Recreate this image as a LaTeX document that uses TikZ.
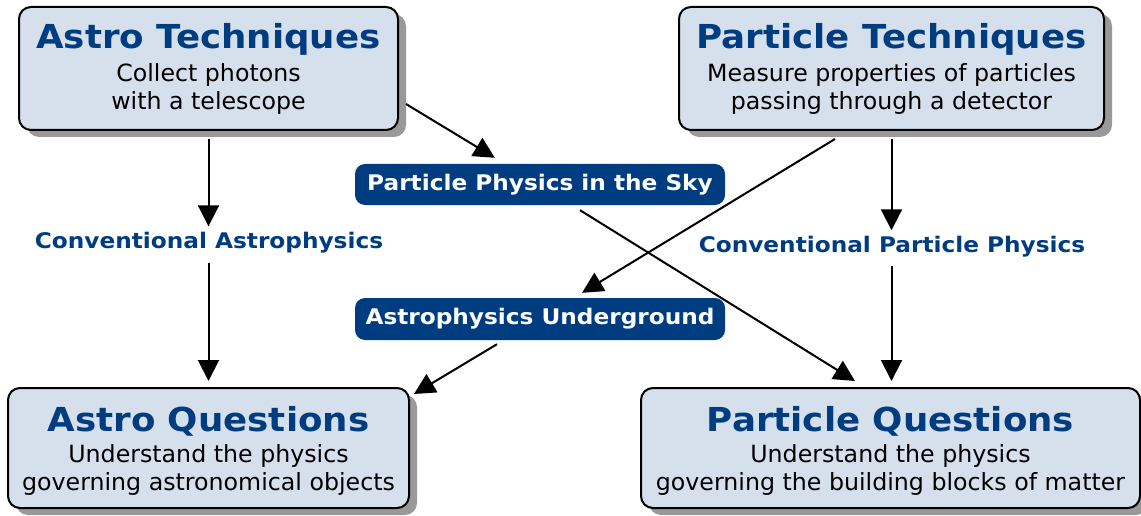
\documentclass[tikz,border=0pt]{standalone}
\usepackage{fontspec}
\setmainfont{DejaVu Sans}
\newfontfamily\widebold[FakeStretch=1.08]{DejaVu Sans Bold}
\usetikzlibrary{arrows.meta,calc,shadows}
\definecolor{navy}{RGB}{0,60,128}
\definecolor{boxfill}{RGB}{214,224,236}
\definecolor{shade}{RGB}{153,153,153}
\begin{document}
\begin{tikzpicture}[x=1pt,y=-1pt,
  bigbox/.style={draw=black, line width=2pt, fill=boxfill, rounded corners=12pt,
    drop shadow={shadow xshift=8pt, shadow yshift=-7pt, fill=shade, opacity=1},
    inner sep=0pt},
  title/.style={anchor=base, text=navy, font=\widebold\fontsize{33}{38}\selectfont, inner sep=0pt},
  sub/.style={anchor=base, text=black, font=\fontsize{23.7}{28}\selectfont, inner sep=0pt},
  pill/.style={fill=navy, rounded corners=10pt, text=white, font=\widebold\fontsize{21.5}{25}\selectfont,
    minimum width=370pt, inner sep=0pt, text height=15pt, text depth=4pt},
  lbl/.style={text=navy, font=\widebold\fontsize{21.5}{25}\selectfont, inner sep=0pt,
    text height=15pt, text depth=4pt},
  arr/.style={line width=2pt, -{Triangle[length=21pt,width=21pt]}}]
\clip (0,0) rectangle (1141,516);
\useasboundingbox (0,0) rectangle (1141,516);

% boxes
\node[bigbox, minimum width=379pt, minimum height=123pt] (AT) at (208.5,68.5) {};
\node[bigbox, minimum width=425pt, minimum height=123pt] (PT) at (891.5,68.5) {};
\node[bigbox, minimum width=401pt, minimum height=120pt] (AQ) at (208.5,448) {};
\node[bigbox, minimum width=499pt, minimum height=120pt] (PQ) at (890.5,448) {};

% box texts
\node[title] (ATt) at ($(AT.north)+(0,43)$) {Astro Techniques};
\node[sub] (ATs1) at ($(AT.north)+(0,76)$) {Collect photons};
\node[sub] (ATs2) at ($(AT.north)+(0,104)$) {with a telescope};

\node[title] (PTt) at ($(PT.north)+(0,43)$) {Particle Techniques};
\node[sub] (PTs1) at ($(PT.north)+(0,76)$) {Measure properties of particles};
\node[sub] (PTs2) at ($(PT.north)+(0,104)$) {passing through a detector};

\node[title] (AQt) at ($(AQ.north)+(0,44)$) {Astro Questions};
\node[sub] (AQs1) at ($(AQ.north)+(0,75)$) {Understand the physics};
\node[sub] (AQs2) at ($(AQ.north)+(0,103)$) {governing astronomical objects};

\node[title] (PQt) at ($(PQ.north)+(0,44)$) {Particle Questions};
\node[sub] (PQs1) at ($(PQ.north)+(0,75)$) {Understand the physics};
\node[sub] (PQs2) at ($(PQ.north)+(0,103)$) {governing the building blocks of matter};

% pills
\node[pill, minimum height=41pt] (PPS) at (540,184.5) {Particle Physics in the Sky};
\node[pill, minimum height=42pt] (AU) at (540,319) {Astrophysics Underground};

% labels
\node[lbl] (CA) at (209,243) {Conventional Astrophysics};
\node[lbl] (CPP) at (892,247) {Conventional Particle Physics};

% connectors
\draw[arr, shorten <=8pt, shorten >=7pt] (AT.south) -- (AT.south |- CA.north);
\draw[arr, shorten <=10pt, shorten >=6pt] (CA.south -| AQ.north) -- (AQ.north);
\draw[arr, shorten <=8pt, shorten >=7pt] (PT.south) -- (PT.south |- CPP.north);
\draw[arr, shorten <=9pt, shorten >=6pt] (CPP.south -| PT.south) -- (PT.south |- PQ.north);
\draw[arr] ($(AT.south east)+(7,-27)$) -- ($(PPS.north west)+(140,-6)$);
\draw[arr] ($(PT.south)+(-56.5,8)$) -- ($(AU.north)+(42,-5)$);
\draw[arr] ($(PPS.south)+(40,5)$) -- ($(PQ.north)+(-35.5,-6)$);
\draw[arr] ($(AU.south)+(-43,4)$) -- ($(AQ.north east)+(4,7)$);
\end{tikzpicture}
\end{document}
